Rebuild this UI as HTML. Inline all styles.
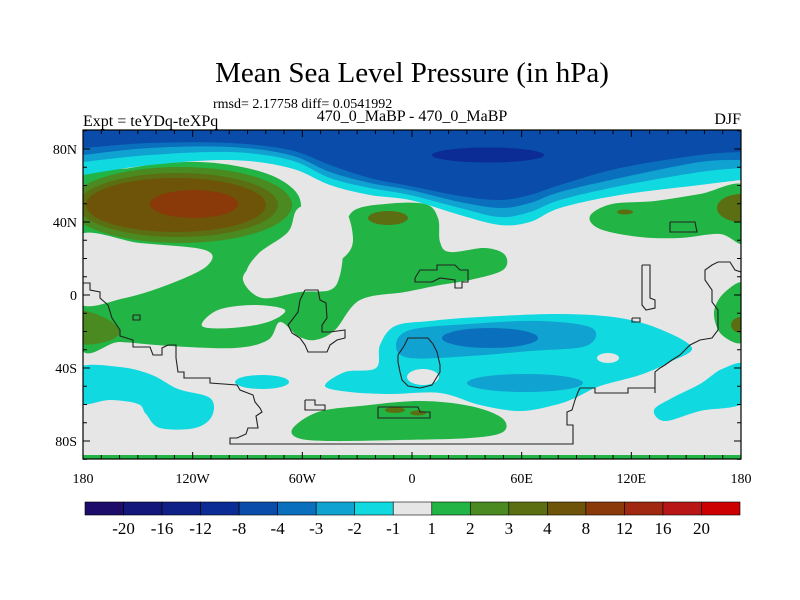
<!DOCTYPE html>
<html><head><meta charset="utf-8"><style>
html,body{margin:0;padding:0;background:#fff}
svg{display:block}
text{font-family:"Liberation Serif",serif;fill:#000}
</style></head><body>
<svg id="chart" width="800" height="600" viewBox="0 0 800 600" xmlns="http://www.w3.org/2000/svg">
<text x="412" y="82" font-size="29" text-anchor="middle">Mean Sea Level Pressure (in hPa)</text>
<text x="213" y="108" font-size="14">rmsd= 2.17758 diff= 0.0541992</text>
<text x="83" y="126" font-size="16">Expt = teYDq-teXPq</text>
<text x="412" y="121" font-size="16" text-anchor="middle">470_0_MaBP - 470_0_MaBP</text>
<text x="741" y="124" font-size="16" text-anchor="end">DJF</text>
<defs><clipPath id="pc"><rect x="83" y="130" width="658" height="329"/></clipPath></defs>
<g id="map" clip-path="url(#pc)"></g>
<g id="axes"></g>
<g id="cbar"></g>
</svg>
<script>
const levels=["-20","-16","-12","-8","-4","-3","-2","-1","1","2","3","4","8","12","16","20"];
const levelColors=["#1e0c6a","#13167a","#0f2186","#0b2c95","#0a4caa","#0a70bd","#10a2d0","#10d9e0","#e6e6e6","#22b444","#4a8a20","#5c6e12","#6e5408","#8a3a08","#a02810","#b81616","#cc0000"];
const xTickLabels=["180","120W","60W","0","60E","120E","180"];
const xTickLons=[-180,-120,-60,0,60,120,180];
const yTickLabels=["80N","40N","0","40S","80S"];
const yTickLats=[80,40,0,-40,-80];
const NS="http://www.w3.org/2000/svg";
const X0=83,X1=741,Y0=130,Y1=459;
const lonX=l=>X0+(l+180)/360*(X1-X0);
const latY=l=>295-l*(73/40);
function el(t,a,p){const e=document.createElementNS(NS,t);for(const k in a)e.setAttribute(k,a[k]);p.appendChild(e);return e;}
function smooth(pts,closed){
  const n=pts.length;let d="M"+pts[0][0]+","+pts[0][1];
  const g=i=>closed?pts[(i+n)%n]:pts[Math.max(0,Math.min(n-1,i))];
  const m=closed?n:n-1;
  for(let i=0;i<m;i++){const p0=g(i-1),p1=g(i),p2=g(i+1),p3=g(i+2);
    d+=" C"+(p1[0]+(p2[0]-p0[0])/6).toFixed(1)+","+(p1[1]+(p2[1]-p0[1])/6).toFixed(1)+" "+(p2[0]-(p3[0]-p1[0])/6).toFixed(1)+","+(p2[1]-(p3[1]-p1[1])/6).toFixed(1)+" "+p2[0]+","+p2[1];}
  return d+(closed?" Z":"");
}
const map=document.getElementById('map');
function blob(pts,c,name){const p=el('path',{d:smooth(pts,true),fill:c},map);return p;}
function band(pts,c,name){const p=el('path',{d:smooth(pts,false)+" L741,125 L83,125 Z",fill:c},map);}
function ell(cx,cy,rx,ry,c,name){const p=el('ellipse',{cx,cy,rx,ry,fill:c},map);}
const C=levelColors;
el('rect',{x:83,y:130,width:658,height:329,fill:C[8]},map);
// green regions
blob([[78,186],[130,168],[200,162],[262,172],[296,192],[300,218],[285,245],[255,263],[243,280],[262,298],[300,292],[330,290],[340,275],[345,240],[352,212],[385,204],[425,204],[438,218],[440,242],[450,252],[485,248],[505,255],[503,270],[470,280],[440,285],[405,292],[360,300],[335,330],[315,340],[298,336],[280,322],[268,340],[235,348],[170,346],[120,342],[78,342]],C[9],'green-north-atlantic-pacific');
blob([[78,236],[140,243],[205,250],[208,265],[175,282],[125,298],[78,302]],C[8],'gray-gap-pacific');
blob([[300,207],[340,204],[353,240],[338,262],[295,283],[263,296],[246,276],[258,254],[288,232]],C[8],'gray-gap-atlantic');
blob([[202,326],[218,310],[255,305],[285,310],[268,322],[232,328]],C[8],'gray-gap-tropics');
ell(180,205,112,38,C[10],'high-level-2');
ell(178,205,100,32,C[11],'high-level-3');
ell(176,205,90,27,C[12],'high-level-4');
ell(194,204,44,14,C[13],'high-level-8');
ell(388,218,20,7,C[11],'europe-high');
blob([[590,216],[612,204],[655,201],[700,194],[745,186],[745,242],[720,234],[680,238],[640,237],[600,229]],C[9],'green-asia-pacific');
ell(741,208,24,14,C[11],'pacific-high-east');
ell(625,212,8,2.5,C[11],'asia-high-small');
blob([[745,285],[725,292],[714,312],[722,335],[745,340]],C[9],'green-south-pacific');
ell(741,325,10,8,C[11],'south-pacific-high');
blob([[78,312],[105,318],[120,332],[105,342],[78,342]],C[10],'west-high');
blob([[293,428],[318,412],[360,406],[420,401],[470,406],[502,418],[503,432],[470,438],[400,440],[330,441],[298,438]],C[9],'green-antarctic');
ell(395,410,10,3,C[11],'antarctic-high-1');ell(418,413,8,2.5,C[11],'antarctic-high-2');
// top blue band
band([[83,175],[150,165],[230,160],[290,168],[330,185],[370,195],[410,200],[460,215],[500,225],[530,222],[560,208],[620,195],[700,185],[741,180]],C[7],'low-arctic-level-1');
band([[83,162],[150,155],[230,152],[290,160],[330,178],[370,188],[410,195],[460,208],[500,217],[530,212],[560,200],[620,186],[700,172],[741,168]],C[6],'low-arctic-level-2');
band([[83,155],[150,148],[230,147],[290,155],[330,172],[370,183],[410,190],[460,202],[500,208],[530,203],[560,192],[620,178],[700,162],[741,160]],C[5],'low-arctic-level-3');
band([[83,148],[150,143],[230,143],[290,150],[330,165],[370,178],[410,186],[460,196],[500,200],[530,195],[560,185],[620,168],[700,155],[741,152]],C[4],'low-arctic-level-4');
ell(488,155,56,7.5,C[3],'low-arctic-core');
// southern lows
blob([[325,386],[345,372],[376,368],[380,345],[395,326],[430,321],[480,317],[560,314],[620,318],[662,330],[692,348],[670,362],[640,375],[600,386],[575,398],[555,405],[520,411],[480,405],[440,393],[390,394],[350,392]],C[7],'low-south-indian');
blob([[396,346],[410,330],[470,324],[540,321],[592,328],[586,346],[530,351],[470,356],[410,358]],C[6],'low-south-indian-level-2');
ell(525,383,58,9,C[6],'low-south-indian-lower');
ell(490,338,48,10,C[5],'low-south-indian-core');
ell(608,358,11,5,C[8],'gray-hole-indian');
ell(423,377,16,8,C[8],'gray-hole-africa');
blob([[745,365],[745,402],[700,411],[665,421],[654,410],[672,398],[700,384],[722,369]],C[7],'low-south-pacific-east');
blob([[78,368],[120,367],[152,375],[178,389],[210,398],[212,416],[195,428],[160,428],[146,414],[138,404],[110,400],[78,403]],C[7],'low-south-pacific-west');
ell(262,382,27,7,C[7],'low-south-atlantic-small');
el('rect',{x:83,y:455,width:658,height:4,fill:C[9]},map);
// coastlines
const coasts=[
[[83,283],[90,283],[90,290],[100,292],[100,298],[108,305],[112,318],[120,330],[120,336],[133,340],[133,347],[150,347],[153,355],[162,355],[162,348],[168,345],[176,345],[176,358],[178,372],[184,372],[184,378],[190,378],[210,378],[210,383],[237,385],[240,390],[253,395],[255,402],[260,408],[262,412],[256,416],[258,428],[248,428],[246,434],[237,438],[230,438],[230,444],[573,444],[573,425],[567,425],[567,412],[572,410],[575,400],[578,392],[580,388],[595,388],[595,393],[628,393],[628,388],[655,388],[655,393],[655,372],[660,368],[665,365],[672,360],[680,355],[690,345],[700,340],[712,338],[718,330],[718,310],[712,302],[712,290],[705,280],[705,270],[712,265],[718,262],[730,262],[735,270],[741,272]],
[[305,290],[318,290],[320,300],[326,303],[327,318],[322,325],[322,332],[330,332],[345,330],[345,338],[337,340],[330,345],[327,352],[308,352],[305,345],[300,338],[292,333],[288,325],[292,320],[298,312],[300,300],[305,290]],
[[398,355],[404,346],[408,338],[428,338],[433,344],[437,352],[440,365],[440,372],[432,385],[420,388],[408,386],[402,380],[400,372],[398,362],[398,355]],
[[415,278],[420,270],[437,270],[437,265],[455,265],[460,270],[468,270],[468,282],[462,282],[462,288],[455,288],[455,280],[440,278],[432,282],[415,282],[415,278]],
[[670,222],[695,222],[697,232],[670,232],[670,222]],
[[642,265],[650,265],[650,298],[655,300],[655,308],[646,310],[642,305],[642,265]],
[[378,407],[418,407],[420,412],[430,412],[430,418],[378,418],[378,407]],
[[305,400],[315,400],[315,405],[325,405],[325,410],[305,410],[305,400]],
[[133,315],[140,315],[140,320],[133,320],[133,315]],
[[632,318],[640,318],[640,322],[632,322],[632,318]]
];
coasts.forEach((c,i)=>{const p=el('polyline',{points:c.map(q=>q.join(',')).join(' '),fill:'none',stroke:'#222','stroke-width':1.1},map);

});
// axes
const ax=document.getElementById('axes');
el('rect',{x:X0,y:Y0,width:X1-X0,height:Y1-Y0,fill:'none',stroke:'#000','stroke-width':1.2},ax);
for(let l=-180;l<=180;l+=10){const x=lonX(l),len=l%60===0?7:4;
 el('line',{x1:x,y1:Y0,x2:x,y2:Y0+len,stroke:'#000'},ax);el('line',{x1:x,y1:Y1,x2:x,y2:Y1-len,stroke:'#000'},ax);}
for(let l=-90;l<=90;l+=10){const y=latY(l),len=l%40===0?7:4;
 el('line',{x1:X0,y1:y,x2:X0+len,y2:y,stroke:'#000'},ax);el('line',{x1:X1,y1:y,x2:X1-len,y2:y,stroke:'#000'},ax);}
xTickLabels.forEach((t,i)=>{const e=el('text',{x:lonX(xTickLons[i]),y:483,'font-size':14,'text-anchor':'middle'},ax);e.textContent=t;

});
yTickLabels.forEach((t,i)=>{const e=el('text',{x:77,y:latY(yTickLats[i])+5,'font-size':14,'text-anchor':'end'},ax);e.textContent=t;

});
// colorbar
const cb=document.getElementById('cbar');const bx0=85,bx1=740,bw=(bx1-bx0)/levelColors.length;
levelColors.forEach((c,i)=>{const r=el('rect',{x:bx0+i*bw,y:502,width:bw,height:13,fill:c,stroke:'#000','stroke-width':0.6},cb);

});
levels.forEach((t,i)=>{const e=el('text',{x:bx0+(i+1)*bw,y:534,'font-size':17,'text-anchor':'middle'},cb);e.textContent=t;

});
</script>
</body></html>
